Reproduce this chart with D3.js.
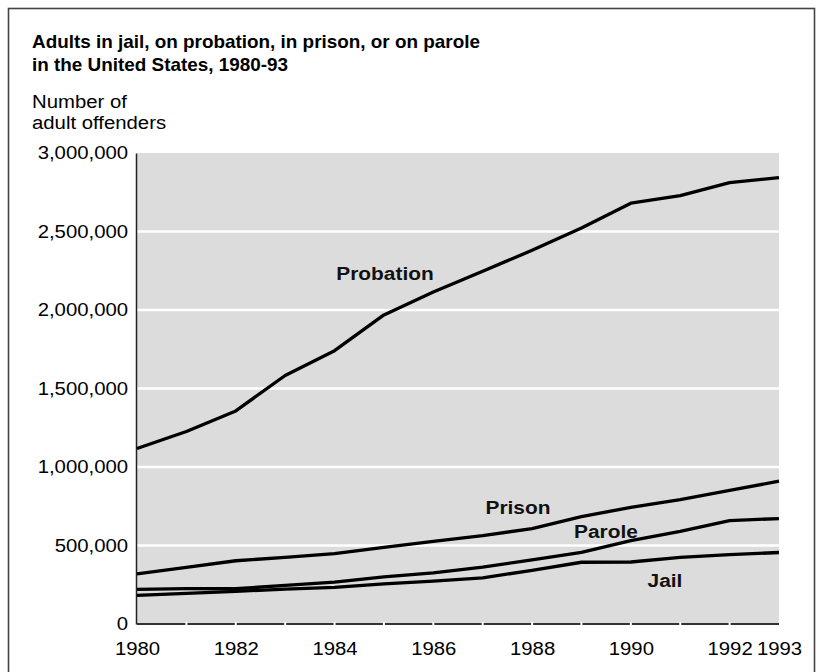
<!DOCTYPE html>
<html>
<head>
<meta charset="utf-8">
<script src="https://cdn.jsdelivr.net/npm/d3@7"></script>
<style>
  body { margin: 0; background: #fff; }
  svg { font-family: "Liberation Sans", Arial, Helvetica, sans-serif; }
</style>
</head>
<body>
<div id="chart"></div>
<script>
// Adults under correctional supervision, 1980-93
const years = [1980, 1981, 1982, 1983, 1984, 1985, 1986, 1987, 1988, 1989, 1990, 1991, 1992, 1993];
const probation = [1118097, 1225934, 1357264, 1582947, 1740948, 1968712, 2114621, 2247158, 2380000, 2522125, 2680000, 2728472, 2811611, 2843445];
const prison = [319598, 360029, 402914, 423898, 448264, 487593, 526436, 562814, 607766, 683367, 743382, 792535, 850566, 909381];
const parole = [220438, 225539, 224604, 246440, 266992, 300203, 325638, 362192, 407977, 456803, 531407, 590442, 658601, 671470];
const jail = [182288, 195085, 207853, 221815, 233018, 254986, 272736, 294092, 341893, 393303, 395000, 424129, 441781, 455500];
const yTicks = [0, 500000, 1000000, 1500000, 2000000, 2500000, 3000000];
const xTickLabels = [1980, 1982, 1984, 1986, 1988, 1990, 1992, 1993];

const seriesList = [
  { name: "Probation", values: probation, lx: 385, ly: 280 },
  { name: "Prison", values: prison, lx: 518, ly: 514 },
  { name: "Parole", values: parole, lx: 606, ly: 538 },
  { name: "Jail", values: jail, lx: 665, ly: 587 }
];

const W = 817, H = 672;
const stretch = 1.13; // glyphs in the original are a bit wider than Arial
const svg = d3.select("#chart").append("svg").attr("width", W).attr("height", H);

function placeText(sel, x, y, sx) {
  return sel.attr("transform", `translate(${x},${y}) scale(${sx},1)`);
}

// outer frame
svg.append("rect")
  .attr("x", 8.5).attr("y", 8.5)
  .attr("width", 806).attr("height", 680)
  .attr("fill", "none").attr("stroke", "#444").attr("stroke-width", 1.6);

// title
placeText(svg.append("text"), 32, 48, 1.05)
  .attr("font-size", 18).attr("font-weight", "bold").attr("fill", "#000")
  .text("Adults in jail, on probation, in prison, or on parole");
placeText(svg.append("text"), 32, 71, 1.05)
  .attr("font-size", 18).attr("font-weight", "bold").attr("fill", "#000")
  .text("in the United States, 1980-93");

// y axis label
placeText(svg.append("text"), 32, 108, stretch)
  .attr("font-size", 18).attr("fill", "#000").text("Number of");
placeText(svg.append("text"), 32, 129, stretch)
  .attr("font-size", 18).attr("fill", "#000").text("adult offenders");

const plotLeft = 137, plotRight = 779, plotTop = 153, plotBottom = 624;

const x = d3.scaleLinear().domain([1980, 1993]).range([plotLeft, plotRight]);
const y = d3.scaleLinear().domain([0, 3000000]).range([plotBottom, plotTop]);

// plot background
svg.append("rect")
  .attr("x", plotLeft).attr("y", plotTop)
  .attr("width", plotRight - plotLeft).attr("height", plotBottom - plotTop)
  .attr("fill", "#dcdcdc");

// white gridlines
svg.append("g")
  .selectAll("line")
  .data(yTicks.filter(d => d > 0 && d < 3000000))
  .enter().append("line")
  .attr("x1", plotLeft).attr("x2", plotRight)
  .attr("y1", d => y(d)).attr("y2", d => y(d))
  .attr("stroke", "#fff").attr("stroke-width", 2.5);

// y axis
const yAxis = svg.append("g")
  .attr("transform", `translate(${plotLeft - 1},0)`)
  .call(d3.axisLeft(y).tickValues(yTicks).tickSize(0).tickPadding(7).tickFormat(d3.format(",")));
yAxis.select(".domain").attr("stroke", "#222").attr("stroke-width", 1.5);
yAxis.selectAll("text").attr("font-size", 18).attr("fill", "#000")
  .attr("font-family", "\"Liberation Sans\", Arial, sans-serif")
  .attr("transform", `scale(${stretch},1)`);

// x axis: dark baseline broken by white gaps at each year
svg.append("line")
  .attr("x1", plotLeft).attr("x2", plotRight)
  .attr("y1", plotBottom).attr("y2", plotBottom)
  .attr("stroke", "#333").attr("stroke-width", 2);
svg.append("g")
  .selectAll("line")
  .data(years.slice(1, -1))
  .enter().append("line")
  .attr("x1", d => x(d)).attr("x2", d => x(d))
  .attr("y1", plotBottom - 2).attr("y2", plotBottom + 2)
  .attr("stroke", "#fff").attr("stroke-width", 2);

const xAxis = svg.append("g")
  .attr("transform", `translate(0,${plotBottom})`)
  .call(d3.axisBottom(x).tickValues(xTickLabels).tickSize(0).tickPadding(18).tickFormat(d3.format("d")));
xAxis.select(".domain").remove();
xAxis.selectAll("text").attr("font-size", 18).attr("fill", "#000")
  .attr("font-family", "\"Liberation Sans\", Arial, sans-serif")
  .attr("transform", `scale(${stretch},1)`);

// lines
const line = d3.line()
  .x((d, i) => x(years[i]))
  .y(d => y(d));

svg.append("g")
  .selectAll("path")
  .data(seriesList)
  .enter().append("path")
  .attr("d", d => line(d.values))
  .attr("fill", "none")
  .attr("stroke", "#000")
  .attr("stroke-width", 3.3)
  .attr("stroke-linejoin", "round");

// series labels
svg.append("g")
  .selectAll("text")
  .data(seriesList)
  .enter().append("text")
  .attr("transform", d => `translate(${d.lx},${d.ly}) scale(${stretch},1)`)
  .attr("text-anchor", "middle")
  .attr("font-size", 18.5).attr("font-weight", "bold").attr("fill", "#111")
  .text(d => d.name);
</script>
</body>
</html>
